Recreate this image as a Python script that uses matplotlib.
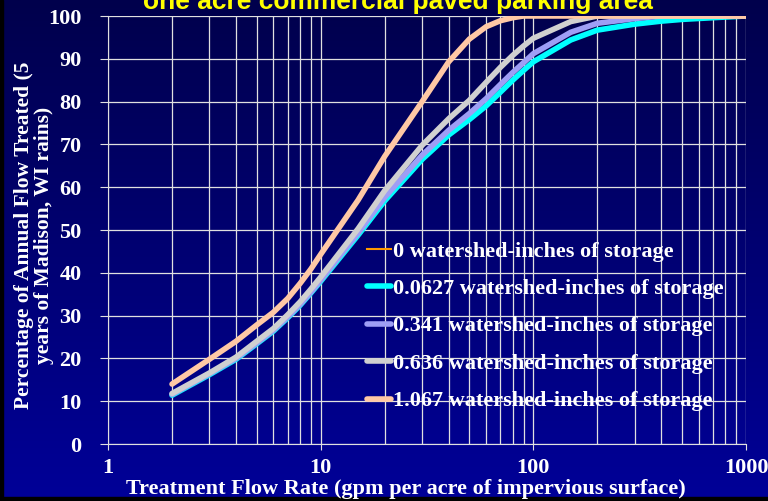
import numpy as np
import matplotlib
matplotlib.use("Agg")
import matplotlib.pyplot as plt
from matplotlib.colors import LinearSegmentedColormap

# values
flow = [2, 3, 4, 5, 6, 7, 8, 9, 10, 15, 20, 30, 40, 50, 60, 70, 80, 90, 100,
        150, 200, 300, 400, 500, 700, 1000]
pct_0 = [11.3, 16.1, 19.7, 23.3, 26.3, 29.4, 32.3, 35.2, 37.9, 48.7, 56.7, 66.4, 72.1,
         75.7, 78.9, 82.1, 84.9, 87.2, 89.2, 94.3, 96.6, 98.0, 98.7, 99.1, 99.5, 100]
pct_00627 = [11.4, 16.2, 19.8, 23.4, 26.4, 29.5, 32.4, 35.3, 38.0, 48.8, 56.8, 66.5, 72.2,
             75.8, 79.0, 82.2, 85.0, 87.3, 89.3, 94.4, 96.7, 98.1, 98.8, 99.2, 99.6, 100]
pct_0341 = [11.6, 16.4, 20.0, 23.6, 26.6, 29.7, 32.6, 35.5, 38.3, 49.3, 57.6, 67.5, 73.3,
            77.2, 80.7, 84.0, 86.8, 89.1, 91.2, 96.2, 98.3, 99.4, 100, 100, 100, 100]
pct_0636 = [11.8, 16.6, 20.3, 24.0, 27.0, 30.2, 33.2, 36.2, 39.0, 50.3, 59.2, 69.8, 76.0,
            80.3, 84.5, 88.0, 90.8, 93.0, 94.8, 98.7, 100, 100, 100, 100, 100, 100]
pct_1067 = [14.0, 19.8, 24.0, 27.8, 30.8, 34.0, 37.5, 40.9, 44.3, 57.0, 67.2, 80.0, 89.3,
            94.6, 97.5, 98.9, 99.6, 100, 100, 100, 100, 100, 100, 100, 100, 100]

labels = ["0 watershed-inches of storage",
          "0.0627 watershed-inches of storage",
          "0.341 watershed-inches of storage",
          "0.636 watershed-inches of storage",
          "1.067 watershed-inches of storage"]

serif = "Liberation Serif"

fig = plt.figure(figsize=(7.68, 5.01), dpi=100)

# gradient slide background
bg = fig.add_axes([0, 0, 1, 1], zorder=-5)
cmap = LinearSegmentedColormap.from_list("slide", ["#00004c", "#000098"])
bg.imshow(np.linspace(0, 1, 256).reshape(-1, 1), aspect="auto", cmap=cmap,
          extent=[0, 1, 0, 1], origin="upper")
bg.axis("off")
fig.patches.append(plt.Rectangle((0, 0), 3 / 768, 1, transform=fig.transFigure, color="black", zorder=-4))
fig.patches.append(plt.Rectangle((0, 0), 1, 4 / 501, transform=fig.transFigure, color="black", zorder=-4))

ax = fig.add_axes([108 / 768, 57 / 501, 638 / 768, 428 / 501])
ax.set_facecolor("none")

ax.plot(flow, pct_0, color="#ff9900", lw=1.5, label=labels[0], zorder=3)
ax.plot(flow, pct_00627, color="#00ffff", lw=4, label=labels[1], zorder=4, solid_capstyle="round")
ax.plot(flow, pct_0341, color="#9e9ef5", lw=4, label=labels[2], zorder=5, solid_capstyle="round")
ax.plot(flow, pct_0636, color="#d0d0d0", lw=4, label=labels[3], zorder=6, solid_capstyle="round")
ax.plot(flow, pct_1067, color="#ffc8a5", lw=4, label=labels[4], zorder=7, solid_capstyle="round")

ax.set_xscale("log")
ax.set_xlim(1, 1000)
ax.set_ylim(0, 100)
ax.set_yticks(range(0, 101, 10))
ax.set_xticks([1, 10, 100, 1000])
ax.set_xticklabels(["1", "10", "100", "1000"])

ax.grid(True, which="both", color="#e0e0e0", lw=0.9)
ax.set_axisbelow(True)
for s in ["top", "right"]:
    ax.spines[s].set_visible(False)
for s in ["left", "bottom"]:
    ax.spines[s].set_color("#e0e0e0")

ax.tick_params(axis="y", colors="#e0e0e0", length=6, pad=13, labelcolor="white",
               labelsize=16)
ax.tick_params(axis="x", which="major", colors="#e0e0e0", length=4, pad=6,
               labelcolor="white", labelsize=16)
ax.tick_params(axis="x", which="minor", length=0)
for t in ax.get_xticklabels() + ax.get_yticklabels():
    t.set_fontfamily(serif)
    t.set_fontweight("bold")

leg = ax.legend(loc="upper left", bbox_to_anchor=(367 / 768, 1 - 241 / 501),
                bbox_transform=fig.transFigure, frameon=False,
                prop={"family": serif, "weight": "bold", "size": 16},
                labelcolor="white", handlelength=1.1, handletextpad=0.05,
                labelspacing=0.76, borderpad=0, borderaxespad=0)

fig.text(406 / 768, 1 - 489 / 501, "Treatment Flow Rate (gpm per acre of impervious surface)",
         ha="center", va="center", color="white", fontsize=16,
         fontfamily=serif, fontweight="bold")
fig.text(34 / 768, 1 - 235 / 501,
         "Percentage of Annual Flow Treated (5\nyears of Madison, WI rains)",
         ha="center", va="center", rotation=90, multialignment="center",
         color="white", fontsize=15.5, fontfamily=serif, fontweight="bold",
         linespacing=1.05)
fig.text(398 / 768, 1 - 9 / 501, "one acre commercial paved parking area",
         ha="center", va="baseline", color="#ffff00", fontsize=19,
         fontfamily="Liberation Sans", fontweight="bold")

fig.savefig("out.png", dpi=100)
